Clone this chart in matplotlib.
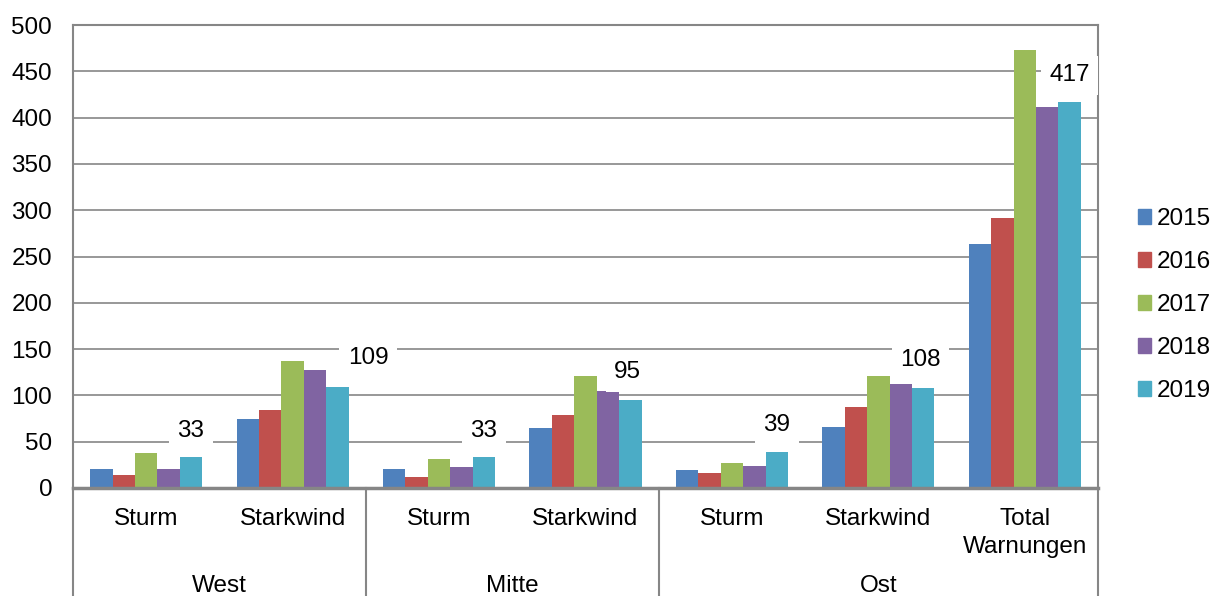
import numpy as np
import matplotlib.pyplot as plt
from matplotlib.patches import Patch

plt.rcParams['font.family'] = ['Liberation Sans', 'DejaVu Sans']

# Daten
kategorien = ['Sturm', 'Starkwind', 'Sturm', 'Starkwind', 'Sturm', 'Starkwind', 'Total\nWarnungen']
regionen = ['West', 'Mitte', 'Ost']
jahre = ['2015', '2016', '2017', '2018', '2019']
v2015 = [20, 74, 20, 65, 19, 66, 263]
v2016 = [14, 84, 12, 79, 16, 87, 292]
v2017 = [38, 137, 31, 121, 27, 121, 473]
v2018 = [21, 127, 23, 105, 24, 112, 411]
v2019 = [33, 109, 33, 95, 39, 108, 417]

werte = [v2015, v2016, v2017, v2018, v2019]
farben = ['#4F81BD', '#C0504D', '#9BBB59', '#8064A2', '#4BACC6']
grau = '#868686'
fs = 17.5

fig = plt.figure(figsize=(12.13, 5.96), dpi=100)
ax = fig.add_axes([73/1213, 108/596, 1025/1213, 463/596])

x = np.arange(len(kategorien))
b = 0.153
for i, (v, f) in enumerate(zip(werte, farben)):
    ax.bar(x + (i - 2) * b, v, width=b, color=f, edgecolor='none', zorder=3)

# Beschriftung nur fuer 2019 (109 wurde im Original nach rechts verschoben)
dx = [0, 22, 0, -2, 0, -2, 0]
dy = [19, 21, 19, 20, 19, 20, 19]
for xi, v, ox, oy in zip(x + 2 * b, v2019, dx, dy):
    ax.annotate(str(v), (xi, v), xytext=(ox, oy), textcoords='offset points',
                ha='center', va='center', fontsize=fs, zorder=6, annotation_clip=False,
                bbox=dict(boxstyle='square,pad=0.35', fc='white', ec='none'))

ax.set_xlim(-0.5, 6.5)
ax.set_ylim(0, 500)
ax.set_yticks(np.arange(0, 501, 50))
ax.tick_params(axis='y', length=0, pad=15, labelsize=fs)
ax.set_xticks([])
ax.grid(axis='y', color=grau, linewidth=1.2, zorder=0)
for s in ax.spines.values():
    s.set_color(grau)
    s.set_linewidth(1.5)
ax.spines['bottom'].set_linewidth(2.5)
ax.spines['bottom'].set_zorder(4)

# zweistufige Kategorieachse
trans = ax.get_xaxis_transform()
for xs in [-0.5, 1.5, 3.5, 6.5]:
    ax.plot([xs, xs], [0, -0.3], transform=trans, color=grau, linewidth=1.5, clip_on=False)
for xi, k in zip(x, kategorien):
    ax.text(xi, -0.043, k, transform=trans, ha='center', va='top', fontsize=fs,
            linespacing=1.35)
for xm, r in zip([0.5, 2.5, 5.0], regionen):
    ax.text(xm, -0.212, r, transform=trans, ha='center', va='center', fontsize=fs)

handles = [Patch(color=f, label=j) for f, j in zip(farben, jahre)]
fig.legend(handles=handles, loc='center left', bbox_to_anchor=(0.938, 0.488),
           frameon=False, fontsize=fs, handlelength=0.55, handleheight=0.55,
           handletextpad=0.25, labelspacing=0.86, borderpad=0, borderaxespad=0)

fig.savefig('out.png', dpi=100)
